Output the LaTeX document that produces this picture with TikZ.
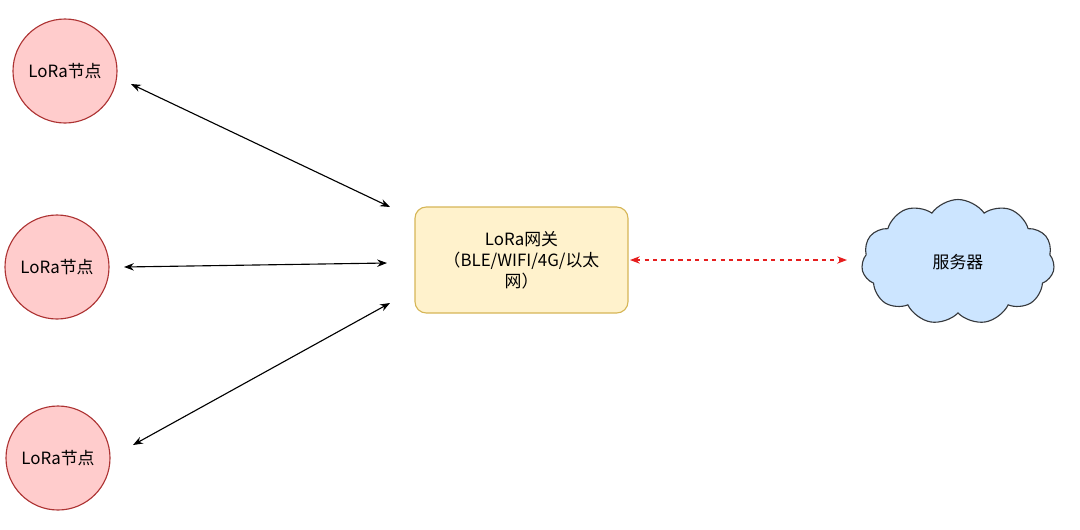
\documentclass[tikz,border=0pt]{standalone}
\usepackage{fontspec}
\setmainfont{Noto Sans CJK SC}
\usetikzlibrary{shapes.symbols,arrows.meta}
\begin{document}
\begin{tikzpicture}[x=0.025cm,y=-0.025cm,
  lnode/.style={circle,draw=red!60!black!80,fill=red!20,line width=0.8pt,minimum size=104*0.025cm,inner sep=0pt,font=\fontsize{12}{14}\selectfont},
  gw/.style={rounded corners=8pt,draw={rgb,255:red,214;green,182;blue,86},fill={rgb,255:red,255;green,242;blue,204},line width=0.8pt,minimum width=213*0.025cm,minimum height=106*0.025cm,align=center,font=\fontsize{12}{15}\selectfont},
  srv/.style={cloud,cloud puffs=11,cloud puff arc=110,aspect=1.6,draw={rgb,255:red,54;green,57;blue,61},fill={rgb,255:red,204;green,229;blue,255},line width=0.8pt,minimum width=193*0.025cm,minimum height=125*0.025cm,inner sep=0pt,font=\fontsize{12}{14}\selectfont},
  link/.style={{Stealth[length=7pt]}-{Stealth[length=7pt]},line width=0.8pt},
  rlink/.style={{Stealth[length=7pt]}-{Stealth[length=7pt]},line width=0.8pt,dashed,draw={rgb,255:red,230;green,30;blue,30}}]
\path[use as bounding box] (0,0) rectangle (1080,529);
\node[lnode] (n1) at (65,71) {LoRa节点};
\node[lnode] (n2) at (57,267) {LoRa节点};
\node[lnode] (n3) at (58,458) {LoRa节点};
\node[gw] (g) at (521.5,260) {LoRa网关\\（BLE/WIFI/4G/以太\\网）};
\node[srv] (s) at (958,262) {服务器};
\coordinate (a1) at (131,84); \coordinate (b1) at (390,207);
\coordinate (a2) at (124,267); \coordinate (b2) at (387,263);
\coordinate (a3) at (133,445); \coordinate (b3) at (390,303);
\coordinate (c1) at (630,260); \coordinate (c2) at (847,260);
\draw[link] (a1) -- (b1);
\draw[link] (a2) -- (b2);
\draw[link] (a3) -- (b3);
\draw[rlink] (c1) -- (c2);
\end{tikzpicture}
\end{document}
